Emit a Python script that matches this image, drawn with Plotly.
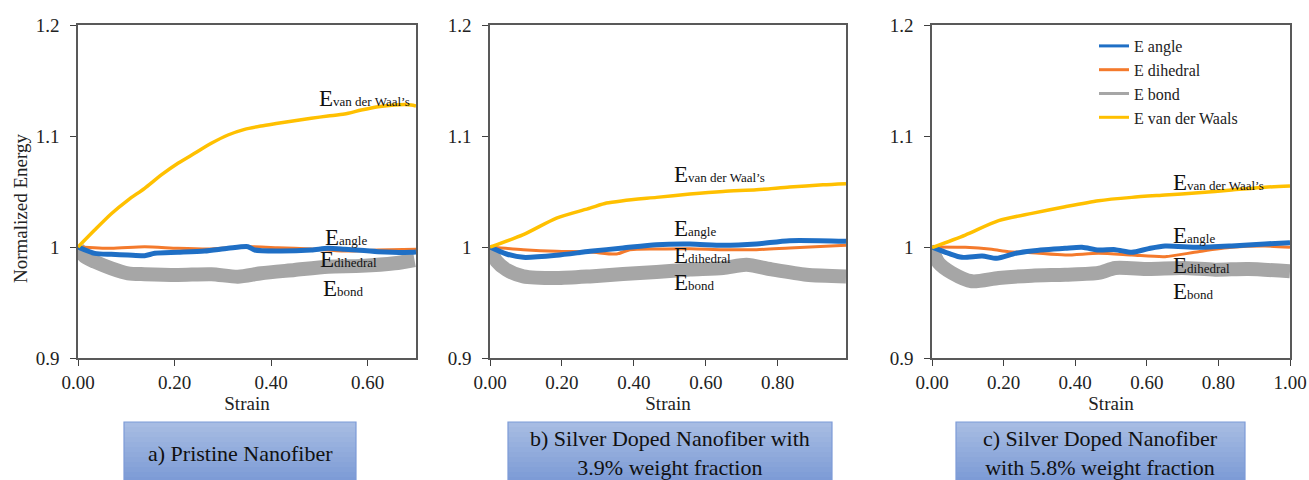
import plotly.graph_objects as go

# ---------------- data ----------------
# Panel a: Pristine nanofiber
a_vdw_x = [0, 0.0345, 0.069, 0.1035, 0.138, 0.1725, 0.207, 0.2415, 0.276, 0.3106, 0.345, 0.3795, 0.414, 0.4485, 0.483, 0.5176, 0.552, 0.5866, 0.621, 0.6556, 0.69, 0.70]
a_vdw_y = [1.0, 1.0153, 1.030, 1.0423, 1.0529, 1.0649, 1.0754, 1.0844, 1.0934, 1.1009, 1.106, 1.109, 1.1114, 1.1138, 1.116, 1.118, 1.1198, 1.1234, 1.1264, 1.128, 1.128, 1.127]
a_ang_x = [0, 0.0345, 0.069, 0.1035, 0.138, 0.159, 0.207, 0.262, 0.3106, 0.352, 0.366, 0.414, 0.483, 0.5176, 0.552, 0.621, 0.69, 0.70]
a_ang_y = [1.0, 0.9943, 0.9934, 0.9928, 0.9922, 0.9943, 0.9952, 0.9964, 0.9988, 1.0003, 0.9973, 0.9964, 0.9973, 0.9988, 0.998, 0.9958, 0.9952, 0.9955]
a_dih_x = [0, 0.069, 0.138, 0.207, 0.276, 0.345, 0.414, 0.483, 0.552, 0.621, 0.70]
a_dih_y = [1.0, 0.9988, 1.0003, 0.9988, 0.9982, 1.0003, 0.9994, 0.9982, 0.9964, 0.9973, 0.998]
a_bond_x = [0, 0.0138, 0.0345, 0.069, 0.1035, 0.138, 0.207, 0.276, 0.331, 0.3795, 0.4485, 0.5176, 0.5866, 0.6556, 0.697]
a_bond_y = [0.999, 0.9913, 0.9868, 0.9808, 0.9763, 0.9755, 0.9748, 0.9755, 0.9733, 0.9763, 0.9793, 0.9823, 0.9830, 0.9853, 0.9883]

# Panel b: Silver doped, 3.9 wt%
b_vdw_x = [0, 0.0926, 0.185, 0.278, 0.324, 0.370, 0.463, 0.556, 0.648, 0.741, 0.833, 0.926, 0.99]
b_vdw_y = [1.0, 1.0111, 1.026, 1.035, 1.0396, 1.0417, 1.0447, 1.0477, 1.0501, 1.0516, 1.054, 1.056, 1.057]
b_ang_x = [0, 0.046, 0.0926, 0.185, 0.278, 0.370, 0.463, 0.556, 0.648, 0.741, 0.833, 0.99]
b_ang_y = [1.0, 0.9937, 0.9907, 0.9925, 0.9961, 0.9991, 1.0021, 1.0027, 1.0015, 1.0027, 1.0057, 1.0051]
b_dih_x = [0, 0.0926, 0.185, 0.278, 0.352, 0.389, 0.463, 0.556, 0.648, 0.741, 0.833, 0.99]
b_dih_y = [1.0, 0.9976, 0.9961, 0.9955, 0.9937, 0.9976, 0.9982, 0.9985, 0.9976, 0.9976, 0.9991, 1.0015]
b_bond_x = [0, 0.0185, 0.046, 0.0926, 0.185, 0.278, 0.370, 0.463, 0.556, 0.648, 0.713, 0.787, 0.88, 0.99]
b_bond_y = [0.999, 0.987, 0.9795, 0.9735, 0.972, 0.9735, 0.9757, 0.9775, 0.9796, 0.981, 0.984, 0.9796, 0.975, 0.9735]

# Panel c: Silver doped, 5.8 wt%
c_vdw_x = [0, 0.093, 0.186, 0.279, 0.372, 0.465, 0.558, 0.651, 0.744, 0.837, 0.93, 1.00]
c_vdw_y = [0.9995, 1.0108, 1.0237, 1.0303, 1.0363, 1.0417, 1.0447, 1.0468, 1.0489, 1.0513, 1.0538, 1.055]
c_ang_x = [0, 0.0465, 0.0837, 0.14, 0.181, 0.233, 0.279, 0.372, 0.419, 0.465, 0.512, 0.558, 0.605, 0.651, 0.744, 0.837, 0.93, 1.00]
c_ang_y = [1.0, 0.9943, 0.9907, 0.9919, 0.9898, 0.9943, 0.9964, 0.9988, 0.9997, 0.9973, 0.9976, 0.9952, 0.9985, 1.0009, 0.9997, 1.0009, 1.0027, 1.0039]
c_dih_x = [0, 0.093, 0.167, 0.214, 0.279, 0.372, 0.465, 0.558, 0.651, 0.744, 0.837, 0.93, 1.00]
c_dih_y = [1.0, 0.9997, 0.9979, 0.9958, 0.9949, 0.9928, 0.9943, 0.9928, 0.9913, 0.9958, 0.9997, 1.0009, 0.9997]
c_bond_x = [0, 0.0186, 0.0558, 0.1116, 0.186, 0.279, 0.372, 0.465, 0.512, 0.605, 0.698, 0.791, 0.884, 1.00]
c_bond_y = [0.999, 0.9857, 0.9766, 0.9691, 0.9721, 0.9742, 0.9751, 0.9766, 0.9811, 0.9802, 0.9811, 0.9796, 0.9802, 0.9781]

series_names = ["E angle", "E dihedral", "E bond", "E van der Waals"]
series_colors = ["#1F6FC5", "#F47A2C", "#A6A6A6", "#FFC000"]
series_widths = [5, 3, 14, 3.5]

panels = [
    dict(ang=(a_ang_x, a_ang_y), dih=(a_dih_x, a_dih_y), bond=(a_bond_x, a_bond_y), vdw=(a_vdw_x, a_vdw_y)),
    dict(ang=(b_ang_x, b_ang_y), dih=(b_dih_x, b_dih_y), bond=(b_bond_x, b_bond_y), vdw=(b_vdw_x, b_vdw_y)),
    dict(ang=(c_ang_x, c_ang_y), dih=(c_dih_x, c_dih_y), bond=(c_bond_x, c_bond_y), vdw=(c_vdw_x, c_vdw_y)),
]
x_ranges = [[0, 0.70], [0, 0.99], [0, 1.0]]
x_ticks = [[0, 0.2, 0.4, 0.6], [0, 0.2, 0.4, 0.6, 0.8], [0, 0.2, 0.4, 0.6, 0.8, 1.0]]
y_ticks = [0.9, 1.0, 1.1, 1.2]
y_tick_labels = ["0.9", "1", "1.1", "1.2"]

panel_captions = ["a) Pristine Nanofiber",
                  "b) Silver Doped Nanofiber with<br>3.9% weight fraction",
                  "c) Silver Doped Nanofiber<br>with 5.8% weight fraction"]

# in-plot label anchor positions (data coords of each panel): vdw, angle, dihedral, bond
label_pos = [
    [(0.495, 1.134), (0.507, 1.0087), (0.497, 0.989), (0.503, 0.963)],
    [(0.506, 1.065), (0.506, 1.017), (0.506, 0.992), (0.506, 0.968)],
    [(0.667, 1.058), (0.667, 1.010), (0.667, 0.983), (0.667, 0.960)],
]
label_subs = ["van der Waal\u2019s", "angle", "dihedral", "bond"]

# ---------------- layout geometry ----------------
W, H = 1309, 480
px_x = [(78, 416), (490, 846), (932, 1290)]
px_y = (25, 358)
FONT = "Liberation Serif"

fig = go.Figure()
layout_axes = {}
order = [("bond", 2), ("dih", 1), ("ang", 0), ("vdw", 3)]
for i, p in enumerate(panels):
    xa = "x" if i == 0 else f"x{i+1}"
    ya = "y" if i == 0 else f"y{i+1}"
    for key, si in order:
        xs, ys = p[key]
        fig.add_trace(go.Scatter(
            x=xs, y=ys, mode="lines", xaxis=xa, yaxis=ya,
            line=dict(color=series_colors[si], width=series_widths[si], shape="spline", smoothing=0.7),
            name=series_names[si], showlegend=False, hoverinfo="skip", cliponaxis=True))
    xkey = "xaxis" if i == 0 else f"xaxis{i+1}"
    ykey = "yaxis" if i == 0 else f"yaxis{i+1}"
    x0, x1 = px_x[i]
    layout_axes[xkey] = dict(
        domain=[x0 / W, x1 / W], range=x_ranges[i], anchor=ya, automargin=False,
        tickvals=x_ticks[i], tickformat=".2f", ticks="outside", ticklen=6,
        tickcolor="#404040", showline=True, linecolor="#595959", linewidth=1.5,
        mirror=True, showgrid=False, zeroline=False,
        tickfont=dict(family=FONT, size=19, color="#222"),
        title=dict(text="Strain", font=dict(family=FONT, size=19, color="#222"), standoff=5))
    layout_axes[ykey] = dict(
        domain=[1 - px_y[1] / H, 1 - px_y[0] / H], range=[0.9, 1.2], anchor=xa, automargin=False,
        tickvals=y_ticks, ticktext=y_tick_labels, ticks="outside", ticklen=6,
        ticklabelstandoff=7,
        tickcolor="#404040", showline=True, linecolor="#595959", linewidth=1.5,
        mirror=True, showgrid=False, zeroline=False,
        tickfont=dict(family=FONT, size=19, color="#222"))
    # in-plot labels
    for (lx, ly), sub in zip(label_pos[i], label_subs):
        fig.add_annotation(x=lx, y=ly, xref=xa, yref=ya,
                           text=f"E<span style='font-size:13px'>{sub}</span>", showarrow=False,
                           xanchor="left", yanchor="middle",
                           font=dict(family=FONT, size=23, color="#111"))

# y axis title (panel a only)
fig.add_annotation(x=20 / W, y=1 - 209 / H, xref="paper", yref="paper", text="Normalized Energy",
                   textangle=-90, showarrow=False, xanchor="center", yanchor="middle",
                   font=dict(family=FONT, size=19, color="#222"))

# legend entries (panel c)
for si in range(4):
    fig.add_trace(go.Scatter(x=[None], y=[None], mode="lines", xaxis="x3", yaxis="y3",
                             line=dict(color=series_colors[si], width=3),
                             name=series_names[si], showlegend=True))

# caption boxes with vertical gradient
box_px = [(124, 356), (508, 832), (956, 1245)]
box_top, box_bot = 422, 482
n_strips = 12
top_rgb = (167, 188, 227)
bot_rgb = (125, 155, 214)
shapes = []
for (bx0, bx1) in box_px:
    for k in range(n_strips):
        t = k / (n_strips - 1)
        r = int(top_rgb[0] + (bot_rgb[0] - top_rgb[0]) * t)
        g = int(top_rgb[1] + (bot_rgb[1] - top_rgb[1]) * t)
        b = int(top_rgb[2] + (bot_rgb[2] - top_rgb[2]) * t)
        sy0 = box_top + (box_bot - box_top) * k / n_strips
        sy1 = box_top + (box_bot - box_top) * (k + 1) / n_strips
        shapes.append(dict(type="rect", xref="paper", yref="paper",
                           x0=bx0 / W, x1=bx1 / W, y0=1 - sy1 / H, y1=1 - sy0 / H,
                           fillcolor=f"rgb({r},{g},{b})", line=dict(width=0), layer="below"))
    shapes.append(dict(type="rect", xref="paper", yref="paper",
                       x0=bx0 / W, x1=bx1 / W, y0=1 - box_bot / H, y1=1 - box_top / H,
                       fillcolor="rgba(0,0,0,0)", line=dict(color="#7D9BD8", width=1.2)))

caption_y = [453, 453, 453]
for i, (bx0, bx1) in enumerate(box_px):
    fig.add_annotation(x=(bx0 + bx1) / 2 / W, y=1 - caption_y[i] / H, xref="paper", yref="paper",
                       text=panel_captions[i], showarrow=False, xanchor="center", yanchor="middle",
                       font=dict(family=FONT, size=22, color="#111"))

fig.update_layout(
    template="none",
    width=W, height=H, margin=dict(l=0, r=0, t=0, b=0, autoexpand=False),
    paper_bgcolor="white", plot_bgcolor="white",
    shapes=shapes,
    legend=dict(x=1094 / W, y=1 - 29 / H, xanchor="left", yanchor="top",
                font=dict(family=FONT, size=16, color="#222"), bgcolor="rgba(0,0,0,0)",
                tracegroupgap=0, itemwidth=30),
    **layout_axes)

fig.write_html("out.html", post_script="document.body.style.margin='0';document.body.style.overflow='hidden';")
